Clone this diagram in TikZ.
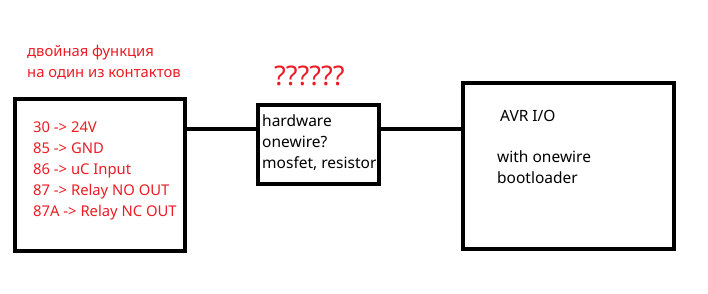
\documentclass[tikz,border=0pt]{standalone}
\usepackage{fontspec}
\setmainfont{Noto Sans}
\definecolor{paintred}{HTML}{ED1C24}
\begin{document}
\begin{tikzpicture}[x=1pt,y=-1pt,
  box/.style={draw=black,line width=4pt,inner sep=0pt,fill=white},
  wire/.style={draw=black,line width=4pt},
  redtxt/.style={anchor=base west,inner sep=0pt,text=paintred,font=\fontsize{14.8}{17}\selectfont},
  blktxt/.style={anchor=base west,inner sep=0pt,text=black,font=\fontsize{15.5}{18}\selectfont}]
\useasboundingbox[fill=white] (0,0) rectangle (708,293);
% boxes
\node[box,minimum width=170pt,minimum height=152pt] (lbox) at (100,175) {};
\node[box,minimum width=121pt,minimum height=79pt] (mbox) at (318.5,144.5) {};
\node[box,minimum width=211pt,minimum height=166pt] (rbox) at (568.5,166) {};
% connectors
\coordinate (w1) at (0,128.5);
\coordinate (w2) at (0,128.5);
\draw[wire] (lbox.east |- w1) -- (mbox.west |- w1);
\draw[wire] (mbox.east |- w2) -- (rbox.west |- w2);
% red texts
\node[redtxt] (t1) at (27,56) {двойная функция};
\node[redtxt] (t2) at (27,77) {на один из контактов};
\node[redtxt,font=\fontsize{27}{30}\selectfont] (q) at (274,85) {??????};
\node[redtxt] (l1) at (33,132) {30 -> 24V};
\node[redtxt] (l2) at (33,153) {85 -> GND};
\node[redtxt] (l3) at (33,174) {86 -> uC Input};
\node[redtxt] (l4) at (33,195) {87 -> Relay NO OUT};
\node[redtxt] (l5) at (33,216) {87A -> Relay NC OUT};
% middle texts
\node[blktxt] (m1) at (262,126) {hardware};
\node[blktxt] (m2) at (262,147) {onewire?};
\node[blktxt] (m3) at (262,168) {mosfet, resistor};
% right texts
\node[blktxt] (r1) at (500,121) {AVR I/O};
\node[blktxt] (r2) at (497,162) {with onewire};
\node[blktxt] (r3) at (497,183) {bootloader};
\end{tikzpicture}
\end{document}
